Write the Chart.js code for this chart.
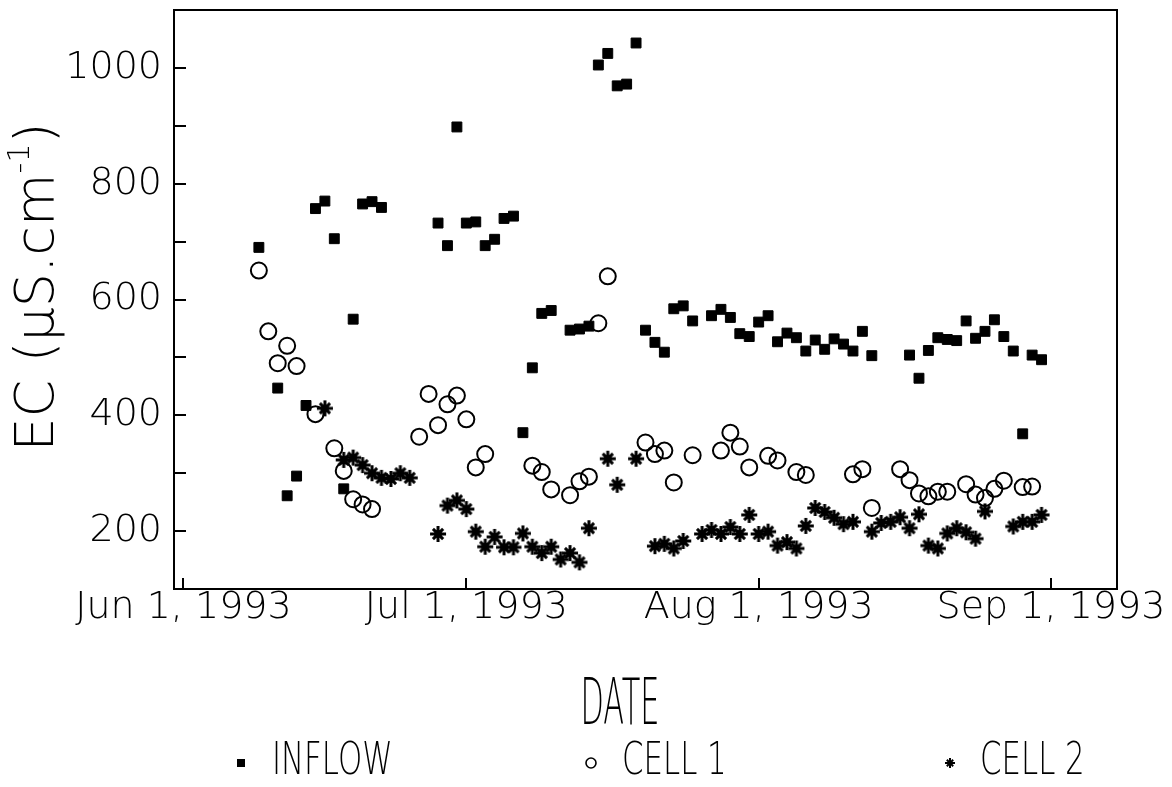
<!DOCTYPE html>
<html>
<head>
<meta charset="utf-8">
<title>EC</title>
<script src="https://cdn.jsdelivr.net/npm/chart.js@4.4.1/dist/chart.umd.min.js"></script>
<style>
  html, body { margin: 0; padding: 0; background: #fff; }
  canvas { display: block; }
</style>
</head>
<body>
<canvas id="canvas" width="1172" height="787"></canvas>
<script>
// data (month/day 1993, EC in uS/cm)
const inflowDates = ['6/9','6/11','6/12','6/13','6/14','6/15','6/16','6/17','6/18','6/19','6/20','6/21','6/22',
  '6/28','6/29','6/30','7/1','7/2','7/3','7/4','7/5','7/6','7/7','7/8','7/9','7/10','7/12','7/13','7/14',
  '7/15','7/16','7/17','7/18','7/19','7/20','7/21','7/22','7/23','7/24','7/25','7/27','7/28','7/29','7/30','7/31',
  '8/1','8/2','8/3','8/4','8/5','8/6','8/7','8/8','8/9','8/10','8/11','8/12','8/13',
  '8/17','8/18','8/19','8/20','8/21','8/22','8/23','8/24','8/25','8/26','8/27','8/28','8/29','8/30','8/31'];
const inflowEC = [690,447,261,295,417,757,770,705,273,566,765,769,759,
  732,693,898,732,734,693,704,740,744,370,482,576,581,547,549,554,
  1005,1025,969,972,1043,547,526,509,584,589,563,572,583,569,541,536,
  561,572,527,542,534,511,530,514,532,523,511,545,503,
  504,464,512,534,531,529,563,533,545,565,536,511,368,504,496];

const cell1Dates = ['6/9','6/10','6/11','6/12','6/13','6/15','6/17','6/18','6/19','6/20','6/21',
  '6/26','6/27','6/28','6/29','6/30','7/1','7/2','7/3','7/8','7/9','7/10','7/12','7/13','7/14','7/15','7/16',
  '7/20','7/21','7/22','7/23','7/25','7/28','7/29','7/30','7/31','8/2','8/3','8/5','8/6',
  '8/11','8/12','8/13','8/16','8/17','8/18','8/19','8/20','8/21','8/23','8/24','8/25','8/26','8/27','8/29','8/30'];
const cell1EC = [650,545,490,520,485,402,343,304,255,246,238,
  363,437,383,419,434,393,310,333,313,302,272,262,286,294,559,640,
  353,333,339,284,331,339,370,346,310,330,322,302,297,
  298,307,240,307,288,265,260,268,268,281,263,257,273,287,276,277];

const cell2Dates = ['6/16','6/18','6/19','6/20','6/21','6/22','6/23','6/24','6/25',
  '6/28','6/29','6/30','7/1','7/2','7/3','7/4','7/5','7/6','7/7','7/8','7/9','7/10','7/11','7/12','7/13','7/14',
  '7/16','7/17','7/19','7/21','7/22','7/23','7/24','7/26','7/27','7/28','7/29','7/30','7/31',
  '8/1','8/2','8/3','8/4','8/5','8/6','8/7','8/8','8/9','8/10','8/11','8/13','8/14','8/15','8/16',
  '8/17','8/18','8/19','8/20','8/21','8/22','8/23','8/24','8/25','8/28','8/29','8/30','8/31'];
const cell2EC = [412,323,327,314,300,292,290,300,292,
  195,244,253,238,199,173,190,172,172,196,173,162,173,151,162,146,205,
  325,280,325,174,178,170,183,195,202,195,207,195,228,
  195,199,175,181,170,209,240,233,223,212,216,199,214,216,224,
  205,229,175,170,196,205,198,187,234,208,216,216,228];

const tickDates = ['6/1', '7/1', '8/1', '9/1'];
const tickLabels = ['Jun 1, 1993', 'Jul 1, 1993', 'Aug 1, 1993', 'Sep 1, 1993'];

// days counted from Jun 1, 1993
function dayOf(md) {
  const p = md.split('/').map(Number);
  return (Date.UTC(1993, p[0] - 1, p[1]) - Date.UTC(1993, 5, 1)) / 86400000;
}
function points(dates, vals) {
  return dates.map((d, i) => ({ x: dayOf(d), y: vals[i] }));
}
const tickDays = tickDates.map(dayOf);

// 8-armed asterisk used as the CELL 2 marker
function asterisk(size, lw) {
  const c = document.createElement('canvas');
  c.width = c.height = size;
  const g = c.getContext('2d');
  const m = size / 2, r = size / 2 - 1;
  g.strokeStyle = '#000';
  g.lineWidth = lw;
  g.beginPath();
  for (let k = 0; k < 4; k++) {
    const a = k * Math.PI / 4;
    const rr = (k % 2) ? r * 0.9 : r;
    g.moveTo(m + rr * Math.cos(a), m + rr * Math.sin(a));
    g.lineTo(m - rr * Math.cos(a), m - rr * Math.sin(a));
  }
  g.stroke();
  return c;
}
const starBig = asterisk(18, 3);
const starSmall = asterisk(12, 2);

const FONT = "'DejaVu Sans', 'Liberation Sans', sans-serif";
const W = '200 ';

const decor = {
  id: 'decor',
  afterDraw(chart) {
    const ctx = chart.ctx, a = chart.chartArea, x = chart.scales.x, y = chart.scales.y;
    ctx.save();
    ctx.strokeStyle = '#000';
    ctx.lineWidth = 2;
    ctx.strokeRect(a.left, a.top, a.right - a.left, a.bottom - a.top);
    ctx.beginPath();
    y.ticks.forEach(t => {
      const py = Math.round(y.getPixelForValue(t.value));
      ctx.moveTo(a.left, py); ctx.lineTo(a.left + 12, py);
    });
    x.ticks.forEach(t => {
      const px = Math.round(x.getPixelForValue(t.value));
      ctx.moveTo(px, a.bottom); ctx.lineTo(px, a.bottom - 11);
    });
    ctx.stroke();

    ctx.fillStyle = '#000';
    // y title
    ctx.save();
    ctx.translate(39, 287);
    ctx.rotate(-Math.PI / 2);
    ctx.textBaseline = 'middle';
    ctx.textAlign = 'left';
    const big = W + '54px ' + FONT, small = W + '30px ' + FONT;
    ctx.font = big;
    const w1 = ctx.measureText('EC (\u00b5S.cm').width;
    const w3 = ctx.measureText(')').width;
    ctx.font = small;
    const w2 = ctx.measureText('-1').width;
    let sx = -(w1 + w2 + w3) / 2;
    ctx.font = big; ctx.fillText('EC (\u00b5S.cm', sx, 0); sx += w1;
    ctx.font = small; ctx.fillText('-1', sx, -18); sx += w2;
    ctx.font = big; ctx.fillText(')', sx, 0);
    ctx.restore();

    // x title, narrow lettering
    ctx.save();
    ctx.translate(620, 707);
    ctx.scale(0.475, 1);
    ctx.font = W + '64px ' + FONT;
    ctx.textAlign = 'center';
    ctx.textBaseline = 'middle';
    ctx.fillText('DATE', 0, 0);
    ctx.restore();

    // legend
    const items = [
      { mark: 'rect', mx: 241, tx: 272 },
      { mark: 'circle', mx: 591, tx: 622 },
      { mark: 'star', mx: 950, tx: 980 }
    ];
    const ly = 763;
    items.forEach((it, i) => {
      ctx.lineWidth = 1.6;
      if (it.mark === 'rect') {
        ctx.fillRect(it.mx - 4, ly - 4, 8, 8);
      } else if (it.mark === 'circle') {
        ctx.beginPath(); ctx.arc(it.mx, ly, 5, 0, Math.PI * 2); ctx.stroke();
      } else {
        ctx.drawImage(starSmall, it.mx - 6, ly - 6);
      }
      ctx.save();
      ctx.translate(it.tx, ly);
      ctx.scale(0.7, 1);
      ctx.font = W + '44px ' + FONT;
      ctx.textAlign = 'left';
      ctx.textBaseline = 'middle';
      ctx.fillText(chart.data.datasets[i].label, 0, 0);
      ctx.restore();
    });
    ctx.restore();
  }
};

const ctx = document.getElementById('canvas').getContext('2d');
const myChart = new Chart(ctx, {
  type: 'scatter',
  data: {
    datasets: [
      {
        label: 'INFLOW',
        data: points(inflowDates, inflowEC),
        pointStyle: 'rect',
        pointRadius: 7,
        backgroundColor: '#000',
        borderColor: '#000',
        borderWidth: 1
      },
      {
        label: 'CELL 1',
        data: points(cell1Dates, cell1EC),
        pointStyle: 'circle',
        pointRadius: 8,
        backgroundColor: 'rgba(0,0,0,0)',
        borderColor: '#000',
        borderWidth: 2
      },
      {
        label: 'CELL 2',
        data: points(cell2Dates, cell2EC),
        pointStyle: starBig,
        pointRadius: 9,
        backgroundColor: '#000',
        borderColor: '#000'
      }
    ]
  },
  options: {
    responsive: false,
    animation: false,
    devicePixelRatio: 1,
    layout: { padding: { left: 0, top: 10, right: 55, bottom: 0 } },
    plugins: {
      legend: { display: false },
      tooltip: { enabled: false }
    },
    scales: {
      x: {
        type: 'linear',
        min: -1,
        max: 99,
        afterBuildTicks: s => { s.ticks = tickDays.map(v => ({ value: v })); },
        afterFit: s => { s.height = 198; s.paddingLeft = 0; s.paddingRight = 0; },
        grid: { display: false, drawTicks: false },
        border: { display: false },
        ticks: {
          autoSkip: false,
          maxRotation: 0,
          padding: -4,
          color: '#000',
          font: { family: FONT, size: 38, weight: '200' },
          callback: (v, i) => tickLabels[i]
        }
      },
      y: {
        min: 100,
        max: 1100,
        afterFit: s => { s.width = 174; s.paddingTop = 0; s.paddingBottom = 0; },
        grid: { display: false, drawTicks: false },
        border: { display: false },
        ticks: {
          stepSize: 100,
          autoSkip: false,
          padding: 12,
          color: '#000',
          font: { family: FONT, size: 38, weight: '200' },
          callback: v => (v >= 200 && v <= 1000 && v % 200 === 0) ? String(v) : ''
        }
      }
    }
  },
  plugins: [decor]
});
</script>
</body>
</html>
